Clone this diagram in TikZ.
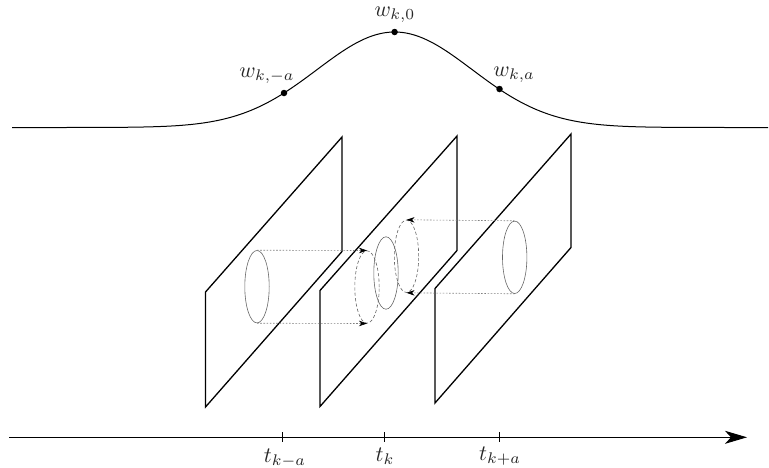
\documentclass[tikz,border=0pt]{standalone}
\usetikzlibrary{arrows.meta,shapes.geometric}
\tikzset{
  plane/.style={line width=1.3pt,line join=miter},
  disc/.style={ellipse,minimum width=24.4pt,minimum height=72.4pt,inner sep=0pt},
  ring/.style={disc,draw=black!60,line width=0.6pt},
  dashring/.style={disc,draw=black!60,line width=0.6pt,dash pattern=on 3.2pt off 2.2pt},
  trace/.style={draw=black!50,line width=0.6pt,dash pattern=on 1.6pt off 1.6pt,
    -{Stealth[black,length=8pt,width=5.5pt,inset=2.4pt]}},
  dot/.style={circle,fill=black,inner sep=0pt,minimum size=6.5pt},
  lab/.style={scale=2.2,inner sep=0pt,text=black!85},
  tick/.style={line width=0.7pt},
}
\begin{document}
\begin{tikzpicture}[x=1pt,y=-1pt]
\useasboundingbox (0,0) rectangle (769,467);
% weight curve
\draw[line width=1pt,domain=12:768,samples=200,smooth]
  plot (\x,{127.5-95.5*exp(-((\x-394.6)/77.5)*((\x-394.6)/77.5)/2)});
\node[dot] (wm) at (284,93) {};
\node[dot] (w0) at (394.6,32) {};
\node[dot] (wp) at (499.5,89) {};
\node[lab] (lwm) at (267,76) {$w_{k,-a}$};
\node[lab] (lw0) at (395,15) {$w_{k,0}$};
\node[lab] (lwp) at (514,75) {$w_{k,a}$};
% planes
\draw[plane] (205.5,407) -- (205.5,292) -- (342,137) -- (342,251.5) -- cycle;
\draw[plane] (320,406.5) -- (320,290.5) -- (457,136) -- (457,250.5) -- cycle;
\draw[plane] (435,403) -- (435,288.5) -- (571,134) -- (571,247.5) -- cycle;
% ellipses
\node[ring] (e1) at (257,286.7) {};
\node[dashring] (da) at (367,287) {};
\node[ring] (em) at (386,273) {};
\node[dashring] (db) at (406.5,256.3) {};
\node[ring] (e3) at (514.7,257.3) {};
% projections
\draw[trace] (e1.north) -- (da.north);
\draw[trace] (e1.south) -- (da.south);
\draw[trace] (e3.north) -- (db.north);
\draw[trace] (e3.south) -- (db.south);
% time axis
\coordinate (as) at (9,437.3);
\coordinate (ae) at (747,437.3);
\draw[line width=1pt,-{Stealth[length=22pt,width=13pt,inset=6pt]}] (as) -- (ae);
\coordinate (t1) at (282.7,437.3);
\coordinate (t2) at (384.3,437.3);
\coordinate (t3) at (499.3,437.3);
\draw[tick] ([yshift=5.3pt]t1) -- ([yshift=-5pt]t1);
\draw[tick] ([yshift=5.3pt]t2) -- ([yshift=-5pt]t2);
\draw[tick] ([yshift=5.3pt]t3) -- ([yshift=-5pt]t3);
\node[lab] (l1) at (285,458) {$t_{k-a}$};
\node[lab] (l2) at (385,456) {$t_k$};
\node[lab] (l3) at (500,456) {$t_{k+a}$};
\end{tikzpicture}
\end{document}
